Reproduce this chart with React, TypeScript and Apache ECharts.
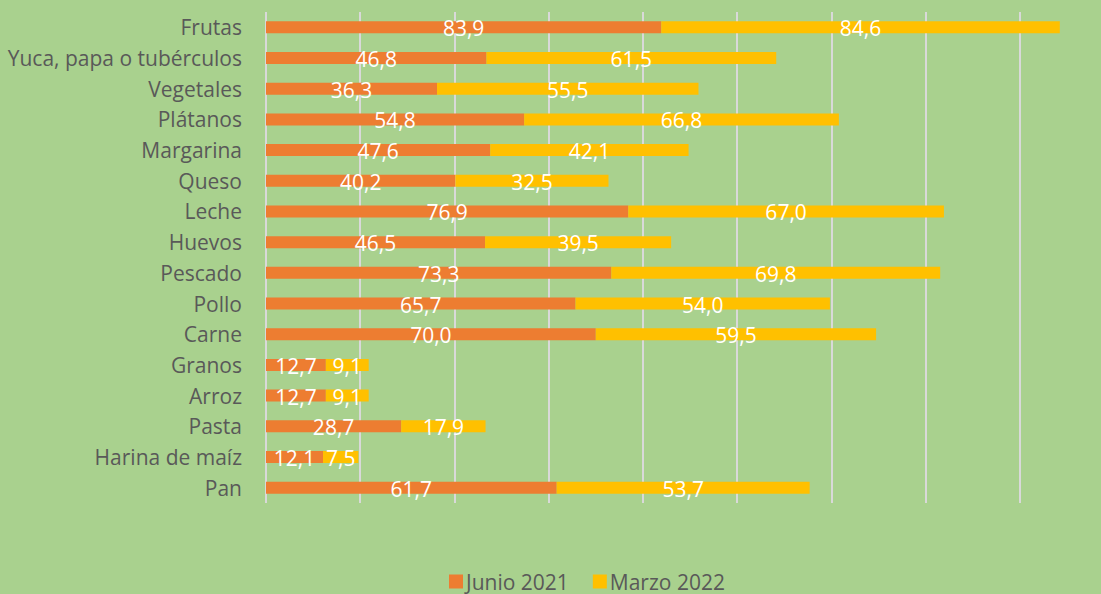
import React, { useEffect, useRef } from "react";
import * as echarts from "echarts";

const categories = [
  "Frutas",
  "Yuca, papa o tubérculos",
  "Vegetales",
  "Plátanos",
  "Margarina",
  "Queso",
  "Leche",
  "Huevos",
  "Pescado",
  "Pollo",
  "Carne",
  "Granos",
  "Arroz",
  "Pasta",
  "Harina de maíz",
  "Pan",
];
const junio2021 = [83.9, 46.8, 36.3, 54.8, 47.6, 40.2, 76.9, 46.5, 73.3, 65.7, 70.0, 12.7, 12.7, 28.7, 12.1, 61.7];
const marzo2022 = [84.6, 61.5, 55.5, 66.8, 42.1, 32.5, 67.0, 39.5, 69.8, 54.0, 59.5, 9.1, 9.1, 17.9, 7.5, 53.7];

const FONT = "'Open Sans', sans-serif";
const fmt = (p: any) => Number(p.value).toFixed(1).replace(".", ",");

export default function App() {
  const ref = useRef<HTMLDivElement>(null);
  useEffect(() => {
    document.body.style.margin = "0";
    document.body.style.overflow = "hidden";
    document.documentElement.style.overflow = "hidden";
    const chart = echarts.init(ref.current!, null, { renderer: "svg" });
    chart.setOption({
      animation: false,
      backgroundColor: "#A9D18E",
      textStyle: { fontFamily: FONT },
      grid: { left: 266, right: 0, top: 12, bottom: 91, containLabel: false },
      legend: {
        data: ["Junio 2021", "Marzo 2022"],
        top: 566,
        left: 444,
        itemWidth: 14,
        itemHeight: 14,
        itemGap: 24,
        icon: "rect",
        textStyle: { color: "#595959", fontSize: 21, fontFamily: FONT, padding: [0, 0, 0, -2] },
      },
      xAxis: {
        type: "value",
        min: 0,
        max: 180,
        interval: 20,
        axisLabel: { show: false },
        axisLine: { show: false },
        axisTick: { show: false },
        splitLine: { show: true, lineStyle: { color: "#D9D9D9", width: 2 } },
      },
      yAxis: {
        type: "category",
        data: categories,
        inverse: true,
        axisTick: { show: false },
        axisLine: { show: false },
        axisLabel: { color: "#595959", fontSize: 21, fontFamily: FONT, margin: 24 },
      },
      series: [
        {
          name: "Junio 2021",
          type: "bar",
          stack: "total",
          data: junio2021,
          barWidth: 12,
          itemStyle: { color: "#ED7D31" },
          label: { show: true, position: "inside", color: "#FFFFFF", fontSize: 21, fontFamily: FONT, formatter: fmt, offset: [0, 1] },
        },
        {
          name: "Marzo 2022",
          type: "bar",
          stack: "total",
          data: marzo2022,
          barWidth: 12,
          itemStyle: { color: "#FFC000" },
          label: { show: true, position: "inside", color: "#FFFFFF", fontSize: 21, fontFamily: FONT, formatter: fmt, offset: [0, 1] },
        },
      ],
    });
    return () => chart.dispose();
  }, []);
  return (
    <div style={{ width: 1101, height: 594, overflow: "hidden" }}>
      <div ref={ref} style={{ width: 1114, height: 594 }} />
    </div>
  );
}
